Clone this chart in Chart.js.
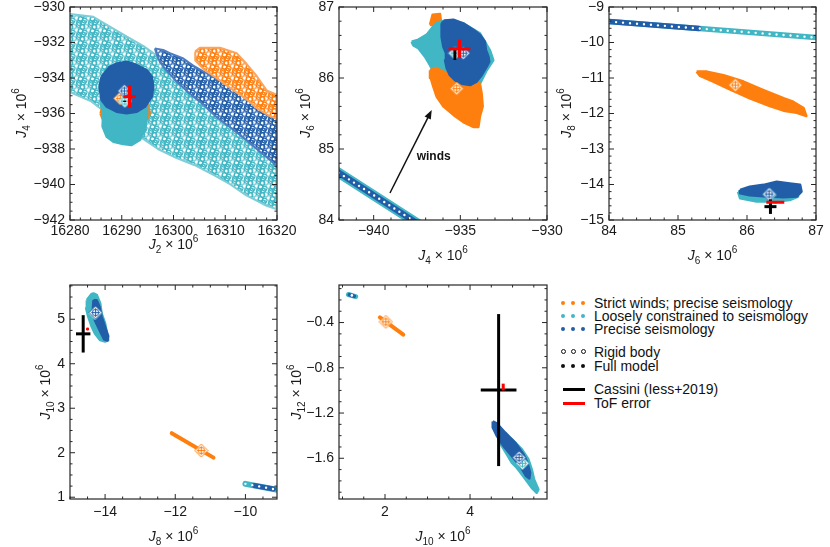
<!DOCTYPE html>
<html lang="en">
<head>
<meta charset="UTF-8" />
<title>Gravity harmonics J2-J12</title>
<script src="https://cdn.jsdelivr.net/npm/chart.js"></script>
<style>
  body { margin: 0; background: #fff; }
  #wrap { position: relative; width: 830px; height: 547px; overflow: hidden; font-family: "Liberation Sans", Arial, sans-serif; color: #111; }
  #wrap canvas { position: absolute; left: 0; top: 0; }
  .row { position: absolute; left: 559px; height: 14px; margin-top: -7px; line-height: 14px; font-size: 14px; white-space: nowrap; }
  .sym { display: inline-block; position: relative; width: 35px; height: 14px; vertical-align: top; }
  .d { position: absolute; top: 5px; width: 4px; height: 4px; border-radius: 50%; }
  .o { position: absolute; top: 4px; width: 5px; height: 5px; border-radius: 50%; border: 1px solid #111; box-sizing: border-box; }
  .ln { position: absolute; left: 4px; top: 5.5px; width: 22px; height: 3px; }
</style>
</head>
<body>
<div id="wrap">
  <div class="row" style="top:303px"><span class="sym"><b class="d" style="left:2px;background:#ff7f0e"></b><b class="d" style="left:12px;background:#ff7f0e"></b><b class="d" style="left:22px;background:#ff7f0e"></b></span>Strict winds; precise seismology</div>
  <div class="row" style="top:316px"><span class="sym"><b class="d" style="left:2px;background:#41b6c4"></b><b class="d" style="left:12px;background:#41b6c4"></b><b class="d" style="left:22px;background:#41b6c4"></b></span>Loosely constrained to seismology</div>
  <div class="row" style="top:329px"><span class="sym"><b class="d" style="left:2px;background:#225ea8"></b><b class="d" style="left:12px;background:#225ea8"></b><b class="d" style="left:22px;background:#225ea8"></b></span>Precise seismology</div>
  <div class="row" style="top:352px"><span class="sym"><b class="o" style="left:1.5px"></b><b class="o" style="left:11.5px"></b><b class="o" style="left:21.5px"></b></span>Rigid body</div>
  <div class="row" style="top:366px"><span class="sym"><b class="d" style="left:2px;background:#111"></b><b class="d" style="left:12px;background:#111"></b><b class="d" style="left:22px;background:#111"></b></span>Full model</div>
  <div class="row" style="top:389px"><span class="sym"><b class="ln" style="background:#000"></b></span>Cassini (Iess+2019)</div>
  <div class="row" style="top:403px"><span class="sym"><b class="ln" style="background:#f00"></b></span>ToF error</div>
</div>

<script>
  const ORANGE = '#ff7f0e', CYAN = '#41b6c4', BLUE = '#225ea8';

  // Cassini (Iess+2019) and ToF error, J2..J12 (x 1e6)
  const cassini    = [16290.573, -935.314, 86.340, -14.624, 4.672, -0.997];
  const cassiniErr = [0.028, 0.037, 0.087, 0.205, 0.42, 0.672];
  const tof        = [16291.5, -935.05, 86.41, -14.50, 4.78, -0.97];
  const tofErr     = [1.2, 0.63, 0.13, 0.03, 0.02, 0.03];

  // tick labels
  const p1XTicks = [16280, 16290, 16300, 16310, 16320];
  const p1YTicks = [-942, -940, -938, -936, -934, -932, -930];
  const p2XTicks = [-940, -935, -930];
  const p2YTicks = [84, 85, 86, 87];
  const p3XTicks = [84, 85, 86, 87];
  const p3YTicks = [-15, -14, -13, -12, -11, -10, -9];
  const p4XTicks = [-14, -12, -10];
  const p4YTicks = [1, 2, 3, 4, 5];
  const p5XTicks = [2, 4];
  const p5YTicks = [-1.6, -1.2, -0.8, -0.4];

  // mean solutions per panel: [strict winds, loosely constrained, precise]
  const p1Means = [[16289.7, -935.15], [16290.6, -935.3], [16290.5, -934.73]];
  const p2Means = [[-935.21, 85.85], [-935.31, 86.35], [-934.83, 86.35]];
  const p3Means = [[85.83, -11.20], [86.33, -14.29], [86.32, -14.27]];
  const p4Means = [[-11.26, 2.05], [-14.29, 5.13], [-14.27, 5.15]];
  const p5Means = [[2.02, -0.394], [5.232, -1.644], [5.153, -1.594]];

  // panel 1: J2 vs J4 (outlines of the sample clouds)
  const p1RigidCyan = [[16280, -930.4], [16284.5, -930.55], [16287.7, -931.1], [16291, -931.67], [16294.2, -932.2], [16296.1, -932.6], [16299, -933.2], [16305, -934.4], [16320, -937.2], [16320, -941.4], [16318, -941.2], [16314, -940.6], [16311, -940.0], [16308, -939.5], [16304, -938.9], [16300.5, -938.5], [16297, -938.0], [16294, -937.4], [16291, -936.8], [16288, -936.2], [16284, -935.3], [16280, -934.8]];
  const p1RigidBlue = [[16296.4, -932.33], [16298.0, -932.42], [16299.3, -932.6], [16301.9, -932.9], [16303.8, -933.3], [16308, -934.0], [16314.1, -935.05], [16320, -935.8], [16320, -939.0], [16318.6, -938.6], [16316.7, -938.15], [16314.1, -937.5], [16311.5, -936.9], [16308.3, -936.2], [16305.8, -935.5], [16303.2, -934.9], [16300.6, -934.2], [16298.7, -933.6], [16297.4, -933.1], [16296.8, -932.7]];
  const p1RigidOrange = [[16304.2, -932.5], [16305.1, -932.3], [16309.0, -932.3], [16312.2, -932.6], [16314.1, -933.2], [16316.1, -933.9], [16318.0, -934.7], [16320, -934.95], [16320, -936.3], [16318.3, -936.1], [16316.1, -935.7], [16314.1, -935.2], [16311.6, -934.7], [16308.3, -934.0], [16305.8, -933.5], [16304.2, -933.0]];
  const p1FullOrange = [[16285.9, -936.0], [16286.3, -936.3], [16294.5, -936.5], [16295.4, -936.0], [16295.0, -935.5], [16286.2, -935.7]];
  const p1FullCyan = [[16285.8, -935.24], [16286.4, -935.99], [16286.3, -936.74], [16287.1, -937.31], [16288.4, -937.59], [16290.3, -937.72], [16291.9, -937.77], [16293.5, -937.49], [16294.5, -936.93], [16294.9, -936.08], [16294.9, -935.24]];
  const p1FullBlue = [[16286.1, -933.93], [16287.7, -933.36], [16289.3, -933.17], [16290.95, -933.08], [16292.9, -933.27], [16294.8, -933.55], [16295.8, -933.93], [16296.1, -934.49], [16295.8, -935.05], [16294.5, -935.62], [16292.9, -935.9], [16290.95, -935.99], [16289.0, -935.9], [16287.1, -935.62], [16286.1, -935.24], [16285.7, -934.49]];

  // panel 2: J4 vs J6
  const p2Rigid = [[-942.3, 84.71], [-937.4, 83.94]];
  const p2FullCyan = [[-937.81, 86.51], [-937.42, 86.54], [-936.94, 86.61], [-936.65, 86.70], [-936.37, 86.78], [-935.88, 86.81], [-934.83, 86.77], [-933.87, 86.63], [-933.29, 86.39], [-933.10, 86.25], [-933.48, 86.11], [-933.87, 85.92], [-934.44, 85.87], [-935.21, 85.92], [-935.98, 85.97], [-936.56, 86.09], [-936.75, 86.18], [-937.04, 86.30], [-937.42, 86.42], [-937.71, 86.46]];
  const p2OrangeTail = [[-936.75, 86.75], [-936.60, 86.89], [-936.17, 86.90], [-936.08, 86.72]];
  const p2FullOrange = [[-936.75, 86.11], [-936.37, 86.14], [-935.60, 86.04], [-934.83, 85.97], [-934.25, 85.95], [-933.87, 85.92], [-933.77, 85.78], [-933.71, 85.60], [-933.87, 85.46], [-933.96, 85.31], [-934.25, 85.31], [-934.83, 85.38], [-935.40, 85.48], [-935.98, 85.60], [-936.37, 85.74], [-936.56, 85.88], [-936.71, 86.00]];
  const p2FullBlue = [[-936.08, 86.77], [-935.88, 86.81], [-935.40, 86.82], [-934.83, 86.77], [-934.25, 86.68], [-933.87, 86.61], [-933.58, 86.51], [-933.52, 86.39], [-933.38, 86.30], [-933.33, 86.23], [-933.48, 86.16], [-933.77, 86.04], [-934.06, 85.95], [-934.44, 85.90], [-934.92, 85.92], [-935.31, 85.97], [-935.60, 86.04], [-935.79, 86.14], [-935.88, 86.25], [-935.83, 86.35], [-935.98, 86.44], [-936.08, 86.58]];
  const windsArrow = [[-939.06, 84.38], [-936.65, 85.55]];
  const windsLabelAt = [-936.54, 84.89];

  // panel 3: J6 vs J8
  const p3Rigid = [[83.9, -9.395], [87.1, -9.875]];
  const p3RigidBlue = [[83.9, -9.395], [85.3, -9.605]];
  const p3FullOrange = [[85.27, -10.82], [85.42, -10.82], [85.66, -10.92], [85.95, -11.10], [86.24, -11.34], [86.53, -11.57], [86.67, -11.67], [86.82, -11.85], [86.86, -12.07], [86.72, -11.98], [86.53, -11.92], [86.33, -11.79], [86.04, -11.57], [85.75, -11.32], [85.51, -11.10], [85.32, -10.94]];
  const p3FullCyan = [[85.87, -14.20], [85.90, -14.39], [86.14, -14.48], [86.43, -14.48], [86.62, -14.44], [86.74, -14.34], [86.53, -14.25], [86.14, -14.20]];
  const p3FullBlue = [[85.90, -14.15], [86.04, -14.06], [86.24, -14.01], [86.43, -13.92], [86.62, -13.97], [86.77, -14.01], [86.79, -14.20], [86.72, -14.34], [86.53, -14.36], [86.29, -14.34], [86.04, -14.30], [85.90, -14.25]];

  // panel 4: J8 vs J10
  const p4Rigid = [[-10.0, 1.30], [-9.0, 1.155]];
  const p4RigidBlue = [[-9.75, 1.265], [-9.2, 1.185]];
  const p4FullOrange = [[-12.10, 2.44], [-10.91, 1.89]];
  const p4FullCyan = [[-14.52, 5.43], [-14.38, 5.57], [-14.33, 5.58], [-14.24, 5.55], [-14.14, 5.36], [-14.10, 5.13], [-14.00, 4.91], [-13.95, 4.68], [-13.91, 4.53], [-14.00, 4.50], [-14.14, 4.53], [-14.29, 4.68], [-14.38, 4.83], [-14.48, 5.06], [-14.54, 5.25]];
  const p4FullBlue = [[-14.33, 5.43], [-14.24, 5.43], [-14.16, 5.28], [-14.10, 5.06], [-14.00, 4.83], [-13.91, 4.62], [-13.93, 4.52], [-14.03, 4.55], [-14.16, 4.76], [-14.29, 4.98], [-14.35, 5.21]];

  // panel 5: J10 vs J12
  const p5Rigid = [[1.14, -0.152], [1.31, -0.170]];
  const p5RigidBlue = [[1.16, -0.154], [1.28, -0.167]];
  const p5RigidCenter = [[1.22, -0.160]];
  const p5FullOrange = [[1.88, -0.355], [2.43, -0.507]];
  const p5FullCyan = [[4.745, -1.372], [4.981, -1.431], [5.216, -1.520], [5.373, -1.609], [5.451, -1.698], [5.506, -1.787], [5.608, -1.875], [5.569, -1.905], [5.451, -1.861], [5.334, -1.801], [5.216, -1.742], [5.098, -1.683], [4.981, -1.638], [4.863, -1.564], [4.745, -1.490], [4.667, -1.431]];
  const p5FullBlue = [[4.534, -1.274], [4.628, -1.292], [4.824, -1.372], [5.059, -1.461], [5.255, -1.564], [5.349, -1.638], [5.412, -1.727], [5.396, -1.778], [5.318, -1.757], [5.177, -1.668], [4.981, -1.579], [4.785, -1.490], [4.628, -1.401], [4.534, -1.327]];

  // ---------- helpers ----------
  const FONT = '"Liberation Sans", Arial, sans-serif';
  const pts = a => a.map(([x, y]) => ({ x, y }));
  const fmt = v => String(v).replace('-', '\u2212');

  // open-circle texture for the rigid-body bands
  const RING_SPOTS = [[2, 2.5], [6.5, 1], [10.5, 3], [4.5, 6], [8.5, 7], [0.5, 8.5], [3, 10.5], [7, 11], [11, 10.5]];
  function rings(c1, c2) {
    const c = document.createElement('canvas');
    c.width = c.height = 12;
    const g = c.getContext('2d');
    g.fillStyle = '#fff'; g.fillRect(0, 0, 12, 12);
    g.lineWidth = 1.3;
    RING_SPOTS.forEach(([x, y], i) => {
      g.strokeStyle = i % 3 ? c1 : c2;
      for (const dx of [-12, 0, 12]) for (const dy of [-12, 0, 12]) {
        g.beginPath(); g.arc(x + dx, y + dy, 2.3, 0, Math.PI * 2); g.stroke();
      }
    });
    return g.createPattern(c, 'repeat');
  }

  function marker(color) {
    const c = document.createElement('canvas');
    c.width = c.height = 15;
    const g = c.getContext('2d');
    g.beginPath(); g.moveTo(7.5, 1); g.lineTo(14, 7.5); g.lineTo(7.5, 14); g.lineTo(1, 7.5); g.closePath();
    g.fillStyle = '#fff'; g.fill();
    g.strokeStyle = color; g.lineWidth = 1; g.stroke();
    g.beginPath(); g.arc(7.5, 7.5, 3.2, 0, Math.PI * 2); g.stroke();
    g.beginPath(); g.moveTo(7.5, 3.2); g.lineTo(7.5, 11.8); g.moveTo(3.2, 7.5); g.lineTo(11.8, 7.5); g.stroke();
    return c;
  }
  const MARKS = [marker(ORANGE), marker(CYAN), marker(BLUE)];

  function poly(a, color, bw, bg) {
    return {
      type: 'line', data: pts(a.concat([a[0]])), borderColor: color, backgroundColor: bg || color,
      borderWidth: bw, fill: 'shape', pointRadius: 0, borderJoinStyle: 'round', tension: 0, clip: 0
    };
  }
  function stroke(a, color, width, dash, cap) {
    return {
      type: 'line', data: pts(a), borderColor: color, borderWidth: width, fill: false,
      borderDash: dash || [], borderCapStyle: cap || 'round', pointRadius: 0, tension: 0, clip: 0
    };
  }
  function cross(ix, iy, vals, errs, color) {
    const cx = vals[ix], cy = vals[iy], ex = errs[ix], ey = errs[iy];
    return [
      stroke([[cx - ex, cy], [cx + ex, cy]], color, 3, null, 'butt'),
      stroke([[cx, cy - ey], [cx, cy + ey]], color, 3, null, 'butt')
    ];
  }
  function means(a) {
    return { type: 'scatter', data: pts(a), pointStyle: MARKS, pointRadius: 6, clip: false };
  }
  function rigidLine(full, blue, w) {
    return [
      stroke(full, CYAN, w[0]),
      stroke(blue, BLUE, w[1]),
      stroke(full, '#ffffff', 2.4, [0, w[2]])
    ];
  }

  function drawTitle(ctx, x, y, sub, rot) {
    const parts = [
      { t: 'J', f: 'italic 14px ' + FONT, dy: 0 },
      { t: sub, f: '10px ' + FONT, dy: 4 },
      { t: ' \u00d7 10', f: '14px ' + FONT, dy: 0 },
      { t: '6', f: '10px ' + FONT, dy: -7 }
    ];
    let w = 0;
    parts.forEach(p => { ctx.font = p.f; p.w = ctx.measureText(p.t).width; w += p.w; });
    ctx.save();
    ctx.translate(x, y);
    if (rot) ctx.rotate(-Math.PI / 2);
    ctx.textAlign = 'left'; ctx.textBaseline = 'alphabetic'; ctx.fillStyle = '#1a1a1a';
    let cx = -w / 2;
    parts.forEach(p => { ctx.font = p.f; ctx.fillText(p.t, cx, p.dy); cx += p.w; });
    ctx.restore();
  }

  function axesPlugin(spec) {
    return {
      id: 'axes_' + spec.name,
      afterDatasetsDraw(chart) {
        const { ctx, chartArea: a } = chart;
        const xs = chart.scales.x, ys = chart.scales.y;
        ctx.save();
        if (spec.arrow) {
          const x0 = xs.getPixelForValue(spec.arrow[0][0]), y0 = ys.getPixelForValue(spec.arrow[0][1]);
          const x1 = xs.getPixelForValue(spec.arrow[1][0]), y1 = ys.getPixelForValue(spec.arrow[1][1]);
          const an = Math.atan2(y1 - y0, x1 - x0), c = Math.cos(an), s = Math.sin(an);
          ctx.strokeStyle = ctx.fillStyle = '#111'; ctx.lineWidth = 1.5;
          ctx.beginPath(); ctx.moveTo(x0, y0); ctx.lineTo(x1 - 6 * c, y1 - 6 * s); ctx.stroke();
          ctx.beginPath(); ctx.moveTo(x1, y1);
          ctx.lineTo(x1 - 9 * c + 3.5 * s, y1 - 9 * s - 3.5 * c);
          ctx.lineTo(x1 - 9 * c - 3.5 * s, y1 - 9 * s + 3.5 * c);
          ctx.closePath(); ctx.fill();
          ctx.font = 'bold 12px ' + FONT; ctx.textAlign = 'center'; ctx.textBaseline = 'middle';
          ctx.fillText('winds', xs.getPixelForValue(spec.labelAt[0]), ys.getPixelForValue(spec.labelAt[1]));
        }
        ctx.strokeStyle = '#262626'; ctx.lineWidth = 1.2;
        ctx.strokeRect(a.left, a.top, a.right - a.left, a.bottom - a.top);

        ctx.lineWidth = 1;
        const ticks = (scale, step, majors, isX) => {
          const lo = Math.ceil(scale.min / step - 1e-9), hi = Math.floor(scale.max / step + 1e-9);
          for (let k = lo; k <= hi; k++) {
            const v = k * step;
            const major = majors.some(m => Math.abs(m - v) < step * 1e-3);
            const len = major ? 5 : 2.5, p = scale.getPixelForValue(v);
            ctx.beginPath();
            if (isX) {
              ctx.moveTo(p, a.bottom); ctx.lineTo(p, a.bottom - len);
              ctx.moveTo(p, a.top); ctx.lineTo(p, a.top + len);
            } else {
              ctx.moveTo(a.left, p); ctx.lineTo(a.left + len, p);
              ctx.moveTo(a.right, p); ctx.lineTo(a.right - len, p);
            }
            ctx.stroke();
          }
        };
        ticks(xs, spec.xMinor, spec.xTicks, true);
        ticks(ys, spec.yMinor, spec.yTicks, false);

        ctx.fillStyle = '#1a1a1a'; ctx.font = '14px ' + FONT;
        ctx.textAlign = 'center'; ctx.textBaseline = 'middle';
        spec.xTicks.forEach(v => ctx.fillText(fmt(v), xs.getPixelForValue(v), a.bottom + spec.xLabOff));
        ctx.textAlign = 'right';
        spec.yTicks.forEach(v => ctx.fillText(fmt(v), a.left - 5, ys.getPixelForValue(v)));
        drawTitle(ctx, spec.xTitle[0], spec.xTitle[1], spec.xSub, false);
        drawTitle(ctx, spec.yTitle[0], spec.yTitle[1], spec.ySub, true);
        ctx.restore();
      }
    };
  }

  function makeChart(spec, layers) {
    const canvas = document.createElement('canvas');
    canvas.width = 830; canvas.height = 547;
    document.getElementById('wrap').appendChild(canvas);
    const [l, t, r, b] = spec.box;
    new Chart(canvas, {
      type: 'scatter',
      data: { datasets: layers.slice().reverse() },   // first dataset is drawn on top
      options: {
        responsive: false, animation: false, events: [],
        layout: { autoPadding: false, padding: { left: l, top: t, right: 830 - r, bottom: 547 - b } },
        scales: {
          x: { type: 'linear', display: false, min: spec.x[0], max: spec.x[1] },
          y: { type: 'linear', display: false, min: spec.y[0], max: spec.y[1] }
        },
        plugins: { legend: { display: false }, tooltip: { enabled: false } }
      },
      plugins: [axesPlugin(spec)]
    });
  }

  // ---------- panels ----------
  makeChart({
    name: 'p1', box: [70, 7, 277, 220], x: [16280, 16320], y: [-942, -930],
    xTicks: p1XTicks, yTicks: p1YTicks, xMinor: 2, yMinor: 0.5, xLabOff: 11,
    xSub: '2', ySub: '4', xTitle: [173.5, 249], yTitle: [26, 113]
  }, [
    poly(p1RigidCyan, '#7fcdd6', 2, rings('#41b6c4', '#8ed3db')),
    poly(p1RigidBlue, '#4d7cc0', 2, rings('#225ea8', '#5b88c6')),
    poly(p1RigidOrange, '#fba45c', 2, rings('#ff7f0e', '#fbab66')),
    poly(p1FullOrange, ORANGE, 2.5),
    poly(p1FullCyan, CYAN, 2.5),
    poly(p1FullBlue, BLUE, 2.5),
    means(p1Means),
    ...cross(0, 1, cassini, cassiniErr, '#000'),
    ...cross(0, 1, tof, tofErr, '#f00')
  ]);

  makeChart({
    name: 'p2', box: [339, 7, 547, 220], x: [-942, -930], y: [84, 87],
    xTicks: p2XTicks, yTicks: p2YTicks, xMinor: 1, yMinor: 0.2, xLabOff: 11,
    xSub: '4', ySub: '6', xTitle: [443, 260], yTitle: [310, 113],
    arrow: windsArrow, labelAt: windsLabelAt
  }, [
    ...rigidLine(p2Rigid, p2Rigid, [10, 6, 6]),
    poly(p2OrangeTail, ORANGE, 2.5),
    poly(p2FullCyan, CYAN, 2.5),
    poly(p2FullOrange, ORANGE, 2.5),
    poly(p2FullBlue, BLUE, 2.5),
    means(p2Means),
    ...cross(1, 2, cassini, cassiniErr, '#000'),
    ...cross(1, 2, tof, tofErr, '#f00')
  ]);

  makeChart({
    name: 'p3', box: [609, 7, 816, 220], x: [84, 87], y: [-15, -9],
    xTicks: p3XTicks, yTicks: p3YTicks, xMinor: 0.2, yMinor: 0.2, xLabOff: 11,
    xSub: '6', ySub: '8', xTitle: [712.5, 260], yTitle: [571, 113]
  }, [
    ...rigidLine(p3Rigid, p3RigidBlue, [5.5, 5.5, 7]),
    poly(p3FullOrange, ORANGE, 2.5),
    poly(p3FullCyan, CYAN, 2.5),
    poly(p3FullBlue, BLUE, 2.5),
    means(p3Means),
    ...cross(2, 3, cassini, cassiniErr, '#000'),
    ...cross(2, 3, tof, tofErr, '#f00')
  ]);

  makeChart({
    name: 'p4', box: [70, 285, 277, 499], x: [-15, -9.1], y: [0.96, 5.77],
    xTicks: p4XTicks, yTicks: p4YTicks, xMinor: 0.5, yMinor: 0.25, xLabOff: 13.5,
    xSub: '8', ySub: '10', xTitle: [173.5, 541], yTitle: [50, 392]
  }, [
    ...rigidLine(p4Rigid, p4RigidBlue, [6, 5, 7]),
    stroke(p4FullOrange, ORANGE, 4),
    poly(p4FullCyan, CYAN, 2.5),
    poly(p4FullBlue, BLUE, 2.5),
    means(p4Means),
    ...cross(3, 4, cassini, cassiniErr, '#000'),
    ...cross(3, 4, tof, tofErr, '#f00')
  ]);

  makeChart({
    name: 'p5', box: [339, 285, 547, 499], x: [0.918, 5.81], y: [-1.96, -0.068],
    xTicks: p5XTicks, yTicks: p5YTicks, xMinor: 0.5, yMinor: 0.1, xLabOff: 13.5,
    xSub: '10', ySub: '12', xTitle: [443, 541], yTitle: [301, 392]
  }, [
    stroke(p5Rigid, CYAN, 5),
    stroke(p5RigidBlue, BLUE, 3.5),
    { type: 'scatter', data: pts(p5RigidCenter), pointRadius: 1.3, backgroundColor: '#fff', borderWidth: 0 },
    stroke(p5FullOrange, ORANGE, 4),
    poly(p5FullCyan, CYAN, 2.5),
    poly(p5FullBlue, BLUE, 2.5),
    means(p5Means),
    ...cross(4, 5, cassini, cassiniErr, '#000'),
    ...cross(4, 5, tof, tofErr, '#f00')
  ]);
</script>
</body>
</html>
